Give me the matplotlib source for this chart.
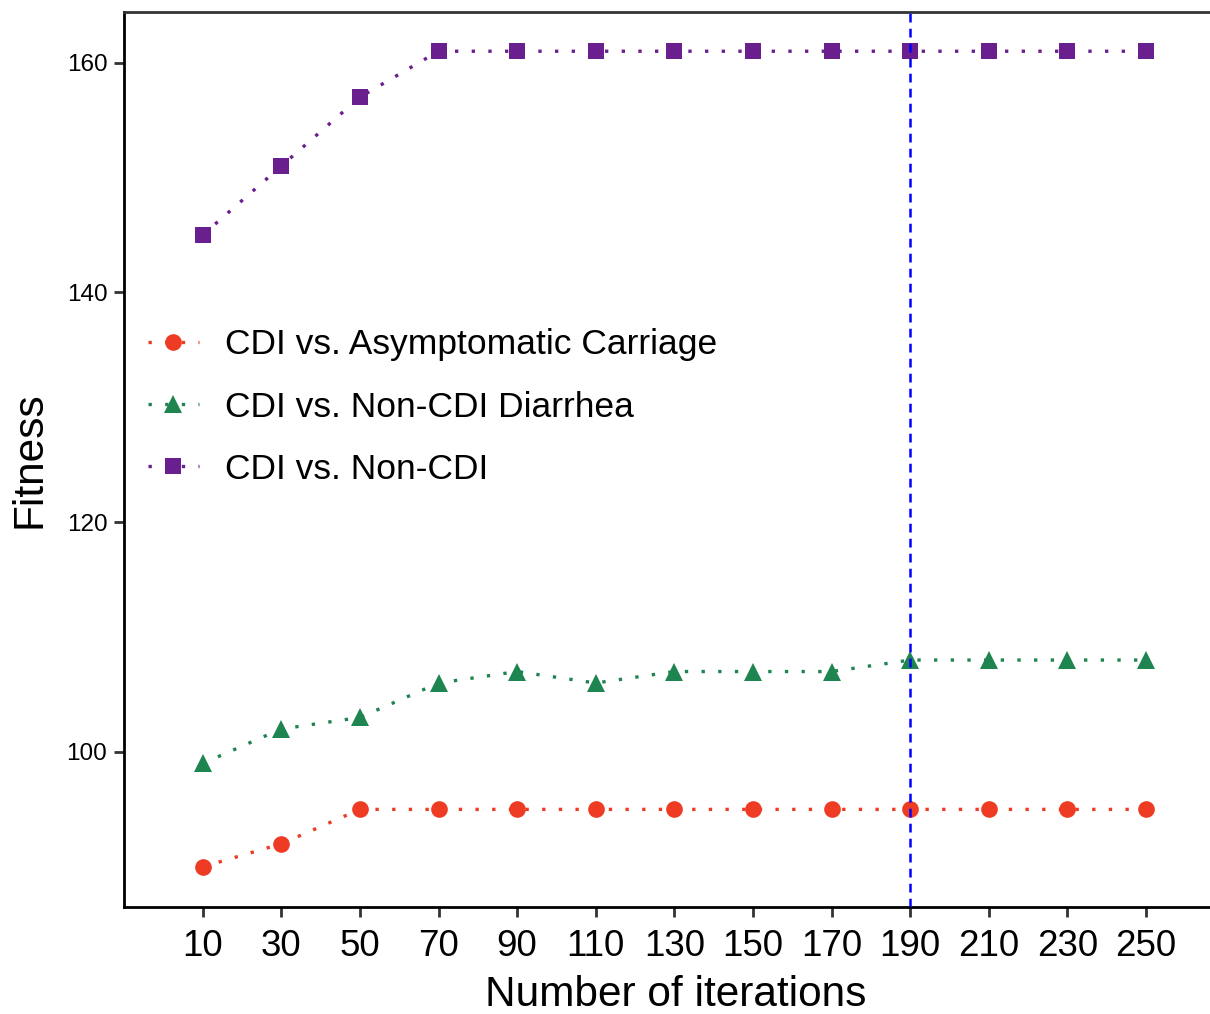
import matplotlib
matplotlib.use("Agg")
import matplotlib.pyplot as plt

plt.rcParams['font.family'] = ['Liberation Sans', 'DejaVu Sans']

iterations = [10, 30, 50, 70, 90, 110, 130, 150, 170, 190, 210, 230, 250]
asymptomatic = [90, 92, 95, 95, 95, 95, 95, 95, 95, 95, 95, 95, 95]
non_cdi_diarrhea = [99, 102, 103, 106, 107, 106, 107, 107, 107, 108, 108, 108, 108]
non_cdi = [145, 151, 157, 161, 161, 161, 161, 161, 161, 161, 161, 161, 161]
best_iteration = 190

series = [
    ("CDI vs. Asymptomatic Carriage", asymptomatic, "#EE3B23", "o", 12),
    ("CDI vs. Non-CDI Diarrhea", non_cdi_diarrhea, "#1F8550", "^", 13),
    ("CDI vs. Non-CDI", non_cdi, "#6A1F8F", "s", 11.5),
]

fig = plt.figure(figsize=(12.1, 10.14), dpi=100)
# panel runs a little past the right edge of the canvas
ax = fig.add_axes([0.1025, 0.1055, 0.9116, 0.8825])

for label, values, color, marker, ms in series:
    ax.plot(iterations, values, color=color, marker=marker, markersize=ms,
            linestyle=(0, (1, 4)), linewidth=2.4, label=label,
            markeredgewidth=0, zorder=3)

ax.axvline(best_iteration, color="#0000FF", linestyle=(0, (3.5, 2.5)),
           linewidth=1.8, zorder=4)

ax.set_xlim(-10, 270.6)
ax.set_ylim(86.5, 164.4)
ax.set_xticks(iterations)
ax.set_yticks([100, 120, 140, 160])

ax.tick_params(axis='x', labelsize=26.5, length=7, width=2, color="#333333", pad=9)
ax.tick_params(axis='y', labelsize=17.5, length=7, width=2, color="#333333", pad=5)

for side in ["left", "bottom"]:
    ax.spines[side].set_linewidth(2)
    ax.spines[side].set_color("black")
ax.spines["top"].set_linewidth(2)
ax.spines["top"].set_color("#333333")
ax.spines["right"].set_visible(False)

ax.set_xlabel("Number of iterations", fontsize=30.5, labelpad=8)
ax.set_ylabel("Fitness", fontsize=30.5, labelpad=12)

ax.legend(loc="upper left", bbox_to_anchor=(0.0215, 0.6465), frameon=False,
          fontsize=25.5, handlelength=1.45, handletextpad=0.73, labelspacing=0.82,
          borderaxespad=0, borderpad=0)

fig.savefig("out.png", dpi=100)
